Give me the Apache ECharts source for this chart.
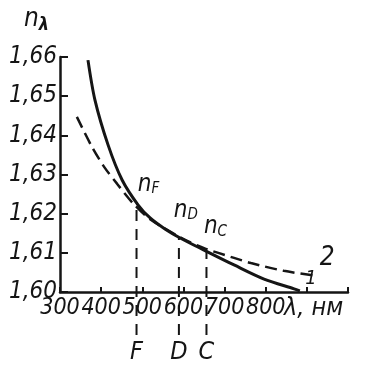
<!DOCTYPE html>
<html>
<head>
<meta charset="utf-8">
<script src="https://cdn.jsdelivr.net/npm/echarts@6/dist/echarts.min.js"></script>
<style>
  html, body { margin: 0; padding: 0; background: #fff; }
  #chart { width: 368px; height: 367px; }
</style>
</head>
<body>
<div id="chart"></div>
<script>
// Refractive index n(λ) of two glasses, wavelength in nm
const solidNm  = [368, 385, 417, 451, 490, 519, 555, 592, 650, 723, 796, 869, 883];
const solidN   = [1.6592, 1.6490, 1.6375, 1.6286, 1.6222, 1.6189, 1.6161, 1.6138, 1.6107, 1.6069, 1.6033, 1.6008, 1.6003];
const dashedNm = [341, 378, 409, 439, 477, 519, 592, 650, 723, 764, 844, 925];
const dashedN  = [1.6447, 1.6370, 1.6317, 1.6276, 1.6227, 1.6186, 1.6140, 1.6112, 1.6087, 1.6074, 1.6054, 1.6041];

// Fraunhofer lines F, D, C and the index at each
const lineNames = ['F', 'D', 'C'];
const lineNm    = [486, 589, 656];
const lineN     = [1.6224, 1.6139, 1.6105];
const lineFoot  = 1.5890;

const xTicks = [300, 400, 500, 600, 700, 800];
const yMin = 1.60, yMax = 1.66, yStep = 0.01;

const INK = '#151515';
const FONT = '"Liberation Sans Narrow", "DejaVu Sans Condensed", "DejaVu Sans", sans-serif';
const HIDDEN = 'rgba(0,0,0,0)';

const toPairs = (xs, ys) => xs.map((x, i) => [x, ys[i]]);

const solidData = toPairs(solidNm, solidN);
solidData[solidData.length - 1] = {
  value: solidData[solidData.length - 1],
  label: { show: true, formatter: '1', position: 'right', distance: 5, offset: [0, -12],
           color: INK, fontFamily: FONT, fontStyle: 'italic', fontSize: 20 }
};
const dashedData = toPairs(dashedNm, dashedN);
dashedData[dashedData.length - 1] = {
  value: dashedData[dashedData.length - 1],
  label: { show: true, formatter: '2', position: 'top', distance: 4, offset: [10, 0],
           color: INK, fontFamily: FONT, fontStyle: 'italic', fontSize: 26 }
};

const labelOffsets = [[12, -3], [7, -10], [9, -7]];

const markerSeries = lineNames.map((name, i) => ({
  type: 'line',
  clip: false,
  silent: true,
  symbol: 'circle',
  symbolSize: 1,
  itemStyle: { color: HIDDEN },
  lineStyle: { color: INK, width: 2, type: [11, 8] },
  data: [
    { value: [lineNm[i], lineFoot],
      label: { show: true, position: 'bottom', distance: 4, formatter: name,
               color: INK, fontFamily: FONT, fontStyle: 'italic', fontSize: 25 } },
    { value: [lineNm[i], lineN[i]],
      label: { show: true, position: 'top', distance: 4, offset: labelOffsets[i],
               formatter: '{n|n}{s|' + name + '}',
               rich: {
                 n: { color: INK, fontFamily: FONT, fontStyle: 'italic', fontSize: 24 },
                 s: { color: INK, fontFamily: FONT, fontStyle: 'italic', fontSize: 15,
                      padding: [10, 0, 0, 0] }
               } } }
  ]
}));

const chart = echarts.init(document.getElementById('chart'), null, { renderer: 'canvas' });
chart.setOption({
  backgroundColor: '#fff',
  animation: false,
  grid: { left: 60, right: 20, top: 57, bottom: 75, containLabel: false },
  xAxis: {
    type: 'value', min: 300, max: 1000, interval: 100,
    axisLine: { lineStyle: { color: INK, width: 2.5 } },
    axisTick: { inside: true, length: 5, lineStyle: { color: INK, width: 2 } },
    axisLabel: {
      margin: 5, color: INK, fontFamily: FONT, fontStyle: 'italic', fontSize: 23,
      showMinLabel: true, hideOverlap: false,
      formatter: v => (xTicks.indexOf(v) >= 0 ? String(v) : '')
    },
    splitLine: { show: false }
  },
  yAxis: {
    type: 'value', min: yMin, max: yMax, interval: yStep,
    axisLine: { show: true, lineStyle: { color: INK, width: 2.5 } },
    axisTick: { show: true, inside: true, length: 8, lineStyle: { color: INK, width: 2 } },
    axisLabel: {
      margin: 3, color: INK, fontFamily: FONT, fontStyle: 'italic', fontSize: 24,
      showMinLabel: true, hideOverlap: false,
      formatter: v => v.toFixed(2).replace('.', ',')
    },
    splitLine: { show: false }
  },
  graphic: [
    { type: 'text', left: 24, top: 6,
      style: { text: '{n|n}{s|λ}', fill: INK,
               rich: {
                 n: { fontFamily: FONT, fontStyle: 'italic', fontSize: 26, fill: INK },
                 s: { fontFamily: FONT, fontStyle: 'italic', fontWeight: 'bold', fontSize: 18, fill: INK,
                      padding: [12, 0, 0, 0] }
               } } },
    { type: 'text', left: 284, top: 296,
      style: { text: 'λ, нм', fill: INK, fontFamily: FONT, fontStyle: 'italic', fontSize: 25 } }
  ],
  series: [
    { type: 'line', name: '1', smooth: 0.3, silent: true,
      symbol: 'circle', symbolSize: 1, itemStyle: { color: HIDDEN },
      lineStyle: { color: INK, width: 3 }, data: solidData },
    { type: 'line', name: '2', smooth: 0.3, silent: true,
      symbol: 'circle', symbolSize: 1, itemStyle: { color: HIDDEN },
      lineStyle: { color: INK, width: 2.5, type: [12, 6] }, data: dashedData },
    ...markerSeries
  ]
});
</script>
</body>
</html>
